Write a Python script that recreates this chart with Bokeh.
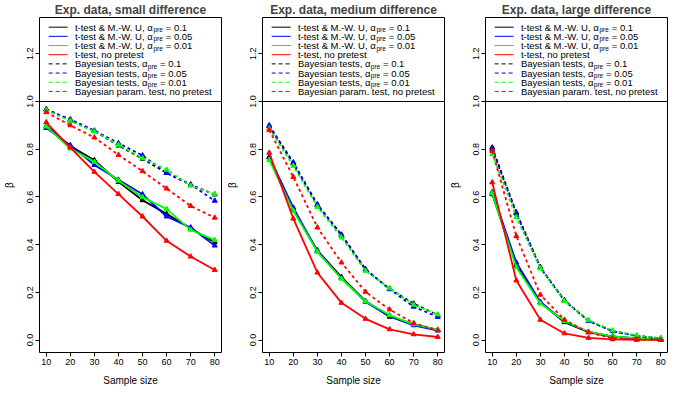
from bokeh.plotting import figure
from bokeh.layouts import row
from bokeh.models import Range1d, FixedTicker, Span
from bokeh.core.properties import value
from bokeh.embed import file_html
from bokeh.resources import INLINE

# ---------------- data ----------------
sample_sizes = [10, 20, 30, 40, 50, 60, 70, 80]

panel_titles = ["Exp. data, small difference",
                "Exp. data, medium difference",
                "Exp. data, large difference"]

# small difference
small_tmw_01 = [0.897, 0.813, 0.754, 0.663, 0.586, 0.529, 0.468, 0.410]
small_tmw_005 = [0.889, 0.817, 0.734, 0.672, 0.611, 0.518, 0.472, 0.396]
small_tmw_001 = [0.895, 0.803, 0.747, 0.668, 0.599, 0.549, 0.462, 0.419]
small_t_nopre = [0.913, 0.807, 0.705, 0.612, 0.518, 0.416, 0.350, 0.294]
small_bay_01 = [0.968, 0.922, 0.876, 0.815, 0.760, 0.700, 0.651, 0.610]
small_bay_005 = [0.966, 0.925, 0.878, 0.825, 0.774, 0.700, 0.652, 0.584]
small_bay_001 = [0.964, 0.918, 0.874, 0.818, 0.762, 0.714, 0.647, 0.612]
small_bay_nopre = [0.955, 0.900, 0.849, 0.776, 0.708, 0.635, 0.562, 0.513]

# medium difference
med_tmw_01 = [0.765, 0.545, 0.376, 0.264, 0.164, 0.098, 0.066, 0.043]
med_tmw_005 = [0.768, 0.555, 0.372, 0.260, 0.160, 0.100, 0.062, 0.040]
med_tmw_001 = [0.755, 0.542, 0.370, 0.257, 0.162, 0.105, 0.066, 0.044]
med_t_nopre = [0.785, 0.509, 0.283, 0.156, 0.089, 0.045, 0.024, 0.013]
med_bay_01 = [0.895, 0.740, 0.565, 0.440, 0.295, 0.215, 0.153, 0.105]
med_bay_005 = [0.900, 0.745, 0.569, 0.442, 0.297, 0.213, 0.140, 0.097]
med_bay_001 = [0.887, 0.730, 0.558, 0.430, 0.290, 0.217, 0.148, 0.107]
med_bay_nopre = [0.880, 0.684, 0.472, 0.325, 0.202, 0.128, 0.071, 0.041]

# large difference
large_tmw_01 = [0.611, 0.315, 0.157, 0.075, 0.033, 0.014, 0.006, 0.002]
large_tmw_005 = [0.620, 0.325, 0.160, 0.078, 0.034, 0.015, 0.007, 0.003]
large_tmw_001 = [0.615, 0.305, 0.153, 0.080, 0.035, 0.015, 0.008, 0.003]
large_t_nopre = [0.661, 0.250, 0.085, 0.028, 0.009, 0.003, 0.001, 0.001]
large_bay_01 = [0.807, 0.535, 0.305, 0.167, 0.081, 0.038, 0.018, 0.007]
large_bay_005 = [0.800, 0.530, 0.303, 0.165, 0.080, 0.037, 0.017, 0.006]
large_bay_001 = [0.780, 0.515, 0.300, 0.163, 0.083, 0.040, 0.019, 0.008]
large_bay_nopre = [0.793, 0.436, 0.190, 0.085, 0.032, 0.008, 0.003, 0.001]

legend_main = ["t-test & M.-W. U, \u03b1", "t-test & M.-W. U, \u03b1",
               "t-test & M.-W. U, \u03b1", "t-test, no pretest",
               "Bayesian tests, \u03b1", "Bayesian tests, \u03b1",
               "Bayesian tests, \u03b1", "Bayesian param. test, no pretest"]
legend_sub = ["pre", "pre", "pre", "", "pre", "pre", "pre", ""]
legend_tail = ["= 0.1", "= 0.05", "= 0.01", "", "= 0.1", "= 0.05", "= 0.01", ""]

x_ticks = [10, 20, 30, 40, 50, 60, 70, 80]
y_ticks = [0.0, 0.2, 0.4, 0.6, 0.8, 1.0, 1.2]
y_tick_labels = ["0.0", "0.2", "0.4", "0.6", "0.8", "1.0", "1.2"]

# ---------------- styles ----------------
colors = ["black", "#0000FF", "#00FF00", "#FF0000"] * 2
dashes = ["solid"] * 4 + ["3 3"] * 4
legend_dashes = ["solid"] * 4 + ["4 3"] * 4
FONT = "Liberation Sans"
LEG_FS = 9.5
main_w = {"t-test & M.-W. U, \u03b1": 78.3, "Bayesian tests, \u03b1": 72.6}
Y0, Y1 = -0.052, 1.352
LEG_BOTTOM = 1.0

panels_data = [
    [small_tmw_01, small_tmw_005, small_tmw_001, small_t_nopre,
     small_bay_01, small_bay_005, small_bay_001, small_bay_nopre],
    [med_tmw_01, med_tmw_005, med_tmw_001, med_t_nopre,
     med_bay_01, med_bay_005, med_bay_001, med_bay_nopre],
    [large_tmw_01, large_tmw_005, large_tmw_001, large_t_nopre,
     large_bay_01, large_bay_005, large_bay_001, large_bay_nopre],
]


def make_panel(title, series):
    p = figure(width=223, height=388, output_backend="svg", toolbar_location=None,
               x_range=Range1d(7.2, 82.8), y_range=Range1d(Y0, Y1),
               min_border_left=30, min_border_right=2, min_border_top=2,
               min_border_bottom=0)
    p.title.text = title
    p.title.text_font = FONT
    p.title.text_font_size = "12px"
    p.title.text_font_style = "bold"
    p.title.align = "center"
    p.title.standoff = 1
    p.grid.visible = False
    p.outline_line_color = "black"
    p.outline_line_width = 1
    p.background_fill_color = "white"
    p.border_fill_color = "white"

    for ax in (p.xaxis[0], p.yaxis[0]):
        ax.axis_line_color = None
        ax.major_tick_in = 0
        ax.major_tick_out = 4
        ax.minor_tick_line_color = None
        ax.major_label_text_font = FONT
        ax.major_label_text_font_size = "9px"
        ax.major_label_text_color = "black"
        ax.axis_label_text_font = FONT
        ax.axis_label_text_font_size = "10px"
        ax.axis_label_text_font_style = "normal"
        ax.axis_label_text_color = "black"
        ax.major_label_standoff = 2
    p.xaxis.ticker = FixedTicker(ticks=x_ticks)
    p.yaxis.ticker = FixedTicker(ticks=y_ticks)
    p.yaxis.major_label_overrides = {t: l for t, l in zip(y_ticks, y_tick_labels)}
    p.yaxis.major_label_orientation = "vertical"
    p.xaxis.axis_label = "Sample size"
    p.yaxis.axis_label = "\u03b2"
    p.xaxis.axis_label_standoff = 7
    p.yaxis.axis_label_standoff = 10

    for ys, c, d in zip(series, colors, dashes):
        p.line(sample_sizes, ys, line_color=c, line_width=1.8, line_dash=d)
        p.scatter(sample_sizes, ys, marker="triangle", size=5, fill_color=c,
                  line_color=c)

    # legend box (frame top/sides + line at 1.0)
    p.add_layout(Span(location=LEG_BOTTOM, dimension="width", line_color="black",
                      line_width=1))
    h = Y1 - LEG_BOTTOM
    n = len(legend_main)
    top_f, bot_f = 0.885, 0.12
    row_y = [LEG_BOTTOM + h * (top_f - i * (top_f - bot_f) / (n - 1)) for i in range(n)]
    for i in range(n):
        p.line([11.0, 18.9], [row_y[i], row_y[i]], line_color=colors[i],
               line_width=1, line_dash=legend_dashes[i])
    p.text(x=[21.9] * n, y=row_y, text=legend_main,
           text_font=value(FONT), text_font_size=f"{LEG_FS}px",
           text_baseline="middle", text_align="left", text_color="black")
    for i in range(n):
        if legend_sub[i]:
            w = main_w[legend_main[i]]
            p.text(x=[21.9], y=[row_y[i]], text=[legend_sub[i]],
                   text_font=value(FONT), text_font_size="6.5px",
                   text_baseline="middle", text_align="left",
                   text_color="black", x_offset=w + 0.3, y_offset=2.5)
            p.text(x=[21.9], y=[row_y[i]], text=[legend_tail[i]],
                   text_font=value(FONT), text_font_size=f"{LEG_FS}px",
                   text_baseline="middle", text_align="left",
                   text_color="black", x_offset=w + 12.5)
    return p


figs = [make_panel(t, s) for t, s in zip(panel_titles, panels_data)]
layout = row(*figs)
open("out.html", "w").write(file_html(layout, INLINE))
